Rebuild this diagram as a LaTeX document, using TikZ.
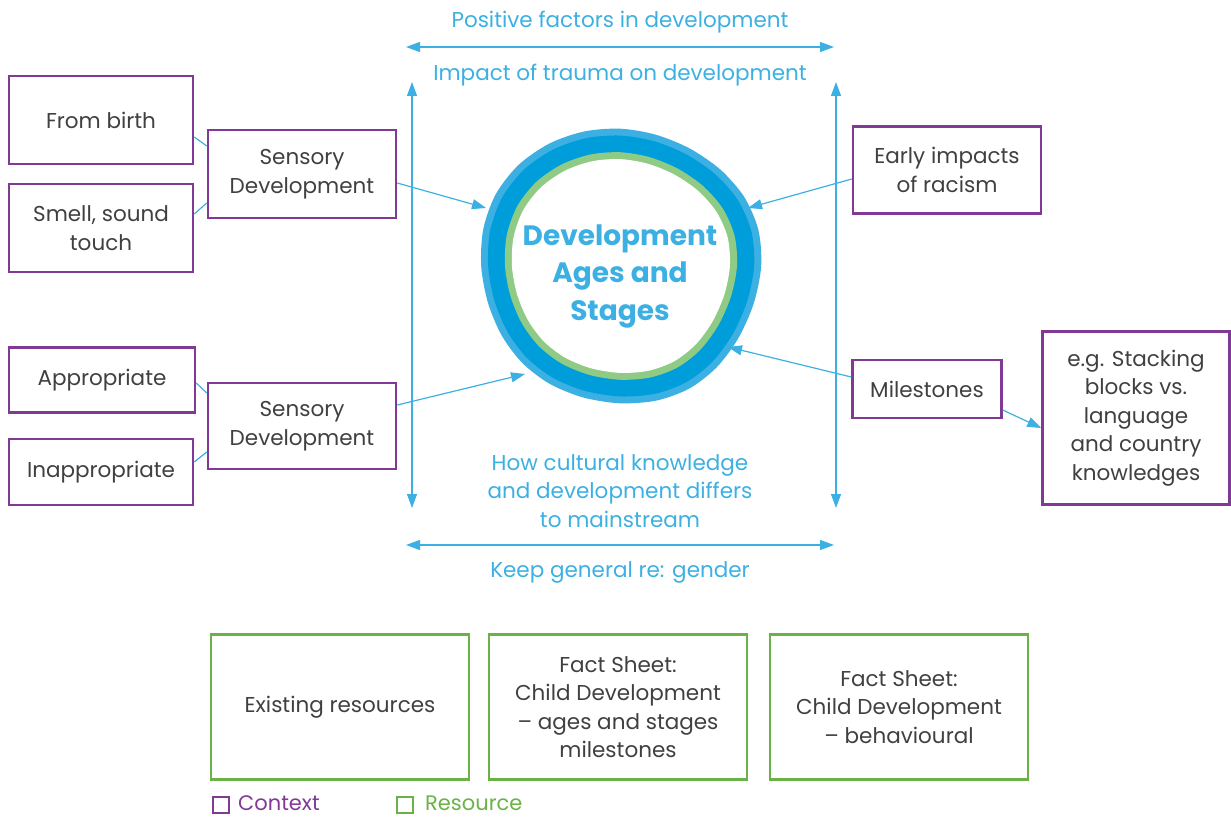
\documentclass[tikz,border=0pt]{standalone}
\usepackage{fontspec}
\setmainfont{Poppins}
\usetikzlibrary{arrows.meta}

\definecolor{ctxpurple}{RGB}{128,58,150}
\definecolor{resgreen}{RGB}{106,178,72}
\definecolor{ringgreen}{RGB}{143,203,132}
\definecolor{lblue}{RGB}{60,176,226}
\definecolor{dblue}{RGB}{0,157,219}
\definecolor{txtgray}{RGB}{64,64,64}

\tikzset{
  context/.style={draw=ctxpurple, line width=2.5pt, text=txtgray, align=center,
    font=\fontsize{21.5}{28.5}\selectfont, inner sep=0pt},
  resource/.style={draw=resgreen, line width=2.5pt, text=txtgray, align=center,
    font=\fontsize{21.5}{28.5}\selectfont, inner sep=0pt,
    minimum width=258pt, minimum height=145pt},
  link/.style={lblue, line width=1.2pt},
  bluetext/.style={text=lblue, align=center, font=\fontsize{21.5}{28.5}\selectfont}
}

\begin{document}
\begin{tikzpicture}[x=1pt, y=-1pt, >={Triangle[length=14pt,width=10pt]}]
\useasboundingbox (0,0) rectangle (1231,818);

% the ring in the middle
\foreach \r/\c in {140/lblue,133/dblue,116/ringgreen,109/white}
  \fill[\c] plot[smooth cycle, domain=0:345, samples=24, variable=\t]
    ({620+\r*(1+0.025*sin(3*\t+20))*cos(\t)}, {266-\r*(1+0.03*cos(2*\t+50))*sin(\t)});
\node[text=lblue, align=center, font=\fontsize{28}{37.5}\selectfont\bfseries] (dev) at (620,276)
  {Development\\Ages and\\Stages};

% points on the ring
\coordinate (inSa) at (486,208);
\coordinate (inSb) at (525,374);
\coordinate (inRa) at (748,208);
\coordinate (inMi) at (728,347);

% left side
\node[context, minimum width=184pt, minimum height=88pt] (birth) at (101,120) {From birth};
\node[context, minimum width=184pt, minimum height=88pt] (smell) at (101,228) {Smell, sound\\touch};
\node[context, minimum width=188pt, minimum height=88pt] (sensA) at (302,174) {Sensory\\Development};
\node[context, minimum width=186pt, minimum height=65pt] (approp) at (102,380) {Appropriate};
\node[context, minimum width=184pt, minimum height=66pt] (inapp) at (101,472) {Inappropriate};
\node[context, minimum width=188pt, minimum height=86pt] (sensB) at (302,426) {Sensory\\Development};

% right side
\node[context, minimum width=188pt, minimum height=87pt] (racism) at (947,170) {Early impacts\\of racism};
\node[context, minimum width=149pt, minimum height=58pt] (miles) at (927,389) {Milestones};
\node[context, minimum width=187pt, minimum height=173pt] (stack) at (1136,418)
  {e.g. Stacking\\blocks vs.\\language\\and country\\knowledges};

% connectors
\draw[link] (birth.east |- 0,137) -- (sensA.west |- 0,146);
\draw[link] (smell.east |- 0,214) -- (sensA.west |- 0,203);
\draw[link] (approp.east |- 0,383) -- (sensB.west |- 0,393);
\draw[link] (inapp.east |- 0,462) -- (sensB.west |- 0,452);
\draw[link, ->] (sensA.east |- 0,183) -- (inSa);
\draw[link, ->] (sensB.east |- 0,405) -- (inSb);
\draw[link, ->] (racism.west |- 0,179) -- (inRa);
\draw[link, ->] (miles.west |- 0,377) -- (inMi);
\draw[link, ->] (miles.east |- 0,410) -- (stack.west |- 0,428);

% the frame of arrows
\coordinate (topL) at (406,47);
\coordinate (topR) at (834,47);
\coordinate (botL) at (406,545);
\coordinate (botR) at (834,545);
\coordinate (leftT) at (412,82);
\coordinate (leftB) at (412,508);
\coordinate (rightT) at (836,82);
\coordinate (rightB) at (836,508);
\draw[link, <->] (topL) -- (topR);
\draw[link, <->] (botL) -- (botR);
\draw[link, <->] (leftT) -- (leftB);
\draw[link, <->] (rightT) -- (rightB);

\node[bluetext] (pos) at (620,22) {Positive factors in development};
\node[bluetext] (trauma) at (620,75) {Impact of trauma on development};
\node[bluetext] (culture) at (620,491) {How cultural knowledge\\and development differs\\to mainstream};
\node[bluetext] (gender) at (620,572) {Keep general re: gender};

% resources
\node[resource] (exist) at (340,707) {Existing resources};
\node[resource] (factA) at (618,707) {Fact Sheet:\\Child Development\\-- ages and stages\\milestones};
\node[resource] (factB) at (899,707) {Fact Sheet:\\Child Development\\-- behavioural};

% legend
\node[draw=ctxpurple, line width=2.2pt, minimum size=16pt, inner sep=0pt] (keyC) at (221,805) {};
\node[anchor=west, text=ctxpurple, font=\fontsize{21}{22}\selectfont, inner sep=0pt] (keyCt) at (238,803) {Context};
\node[draw=resgreen, line width=2.2pt, minimum size=16pt, inner sep=0pt] (keyR) at (405,805) {};
\node[anchor=west, text=resgreen, font=\fontsize{21}{22}\selectfont, inner sep=0pt] (keyRt) at (425,803) {Resource};
\end{tikzpicture}
\end{document}
